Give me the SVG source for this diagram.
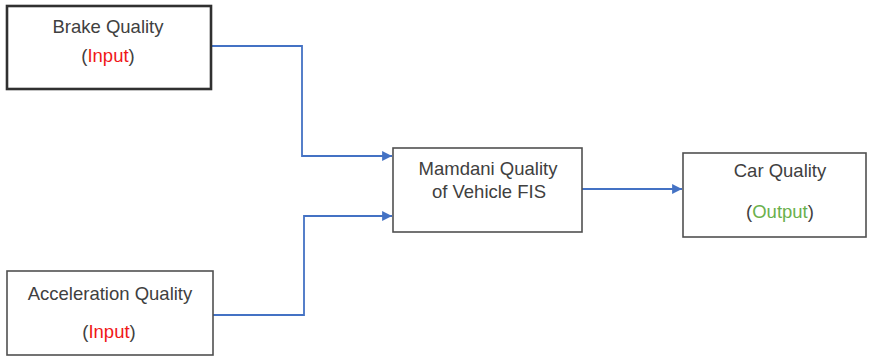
<svg xmlns="http://www.w3.org/2000/svg" width="871" height="357" viewBox="0 0 871 357">
<defs>
<style>
.box{fill:#fff;stroke:#505050;stroke-width:1.6}
.t{font-family:"Liberation Sans",Arial,sans-serif;font-size:18.5px;fill:#404040;text-anchor:middle}
.r{fill:#f01818}
.g{fill:#6ab04c}
.c{fill:none;stroke:#4472c4;stroke-width:1.8}
</style>
<marker id="ah" viewBox="0 0 10 10" refX="10" refY="5" markerWidth="5.5" markerHeight="5.5" orient="auto" markerUnits="strokeWidth">
<path d="M0,0 L10,5 L0,10 z" fill="#4472c4"/>
</marker>
</defs>
<rect width="871" height="357" fill="#fff"/>
<g id="connectors">
<path class="c" d="M211,46 H302 V156 H392" marker-end="url(#ah)"/>
<path class="c" d="M213,315 H304 V216 H392" marker-end="url(#ah)"/>
<path class="c" d="M582,189 H682" marker-end="url(#ah)"/>
</g>
<g id="brake">
<rect class="box" x="7" y="6" width="204" height="83" style="stroke:#303030;stroke-width:2.6"/>
<text class="t" x="108" y="33">Brake Quality</text>
<text class="t" x="108" y="62">(<tspan class="r">Input</tspan>)</text>
</g>
<g id="accel">
<rect class="box" x="7" y="271" width="206" height="84"/>
<text class="t" x="110" y="300">Acceleration Quality</text>
<text class="t" x="109" y="338">(<tspan class="r">Input</tspan>)</text>
</g>
<g id="mamdani">
<rect class="box" x="393" y="148" width="189" height="84"/>
<text class="t" x="488" y="175">Mamdani Quality</text>
<text class="t" x="489" y="198">of Vehicle FIS</text>
</g>
<g id="car">
<rect class="box" x="683" y="153" width="183" height="84"/>
<text class="t" x="780" y="177">Car Quality</text>
<text class="t" x="780" y="218">(<tspan class="g">Output</tspan>)</text>
</g>
</svg>
